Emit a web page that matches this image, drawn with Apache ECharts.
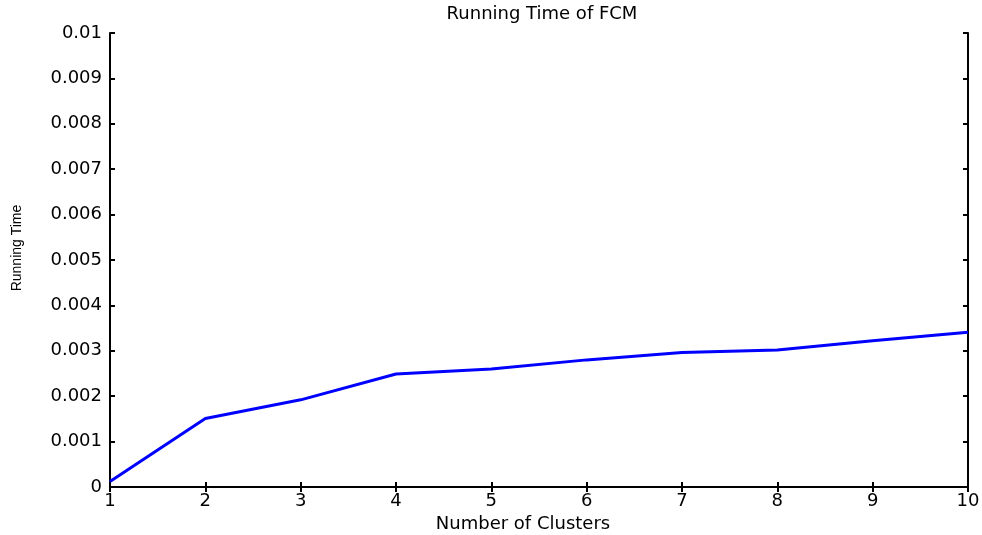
<!DOCTYPE html>
<html>
<head>
<meta charset="utf-8">
<script src="https://cdn.jsdelivr.net/npm/echarts@6/dist/echarts.min.js"></script>
<style>html,body{margin:0;padding:0;background:#fff;}</style>
</head>
<body>
<div id="main" style="width:982px;height:535px;"></div>
<script type="text/javascript">
var clusters = [1, 2, 3, 4, 5, 6, 7, 8, 9, 10];
var runningTime = [0.00012, 0.00151, 0.00192, 0.00249, 0.0026, 0.0028, 0.00296, 0.00302, 0.00322, 0.00341];

var font = 'DejaVu Sans, Liberation Sans, sans-serif';
var chart = echarts.init(document.getElementById('main'));

var pts = clusters.map(function (c, i) { return [c, runningTime[i]]; });

var tickStyle = { show: true, inside: true, length: 5, lineStyle: { color: '#000', width: 2 } };

chart.setOption({
    animation: false,
    title: {
        text: 'Running Time of FCM',
        left: 537,
        textAlign: 'center',
        top: 0,
        textStyle: { fontFamily: font, fontSize: 18, fontWeight: 'normal', color: '#000' }
    },
    grid: { left: 110, right: 14, top: 33, bottom: 48, outerBoundsMode: 'none', containLabel: false },
    xAxis: [{
        type: 'value', min: 1, max: 10, interval: 1,
        name: 'Number of Clusters', nameLocation: 'middle', nameGap: 22,
        nameTextStyle: { fontFamily: font, fontSize: 18, color: '#000', verticalAlign: 'top', padding: [0, 32, 0, 0] },
        axisLine: { lineStyle: { color: '#000', width: 2 } },
        axisTick: tickStyle,
        axisLabel: { fontFamily: font, fontSize: 18, color: '#000', margin: 5 },
        splitLine: { show: false }
    }, {
        type: 'value', min: 1, max: 10, interval: 1, position: 'top',
        axisLine: { show: true, lineStyle: { color: '#000', width: 2 } },
        axisTick: tickStyle,
        axisLabel: { show: false },
        splitLine: { show: false }
    }],
    yAxis: [{
        type: 'value', min: 0, max: 0.01, interval: 0.001,
        name: 'Running Time', nameLocation: 'middle', nameGap: 86, nameRotate: 90,
        nameTextStyle: { fontFamily: 'Liberation Sans, sans-serif', fontSize: 14, color: '#000', padding: [0, 0, 0, 24] },
        axisLine: { show: true, lineStyle: { color: '#000', width: 2 } },
        axisTick: tickStyle,
        axisLabel: {
            fontFamily: font, fontSize: 18, color: '#000', margin: 8,
            formatter: function (v) { return v === 0 ? '0' : String(+v.toFixed(3)); }
        },
        splitLine: { show: false }
    }, {
        type: 'value', min: 0, max: 0.01, interval: 0.001, position: 'right',
        axisLine: { show: true, lineStyle: { color: '#000', width: 2 } },
        axisTick: tickStyle,
        axisLabel: { show: false },
        splitLine: { show: false }
    }],
    series: [{
        type: 'line',
        data: pts,
        showSymbol: false,
        lineStyle: { color: '#0000ff', width: 3 },
        itemStyle: { color: '#0000ff' }
    }]
});
</script>
</body>
</html>
